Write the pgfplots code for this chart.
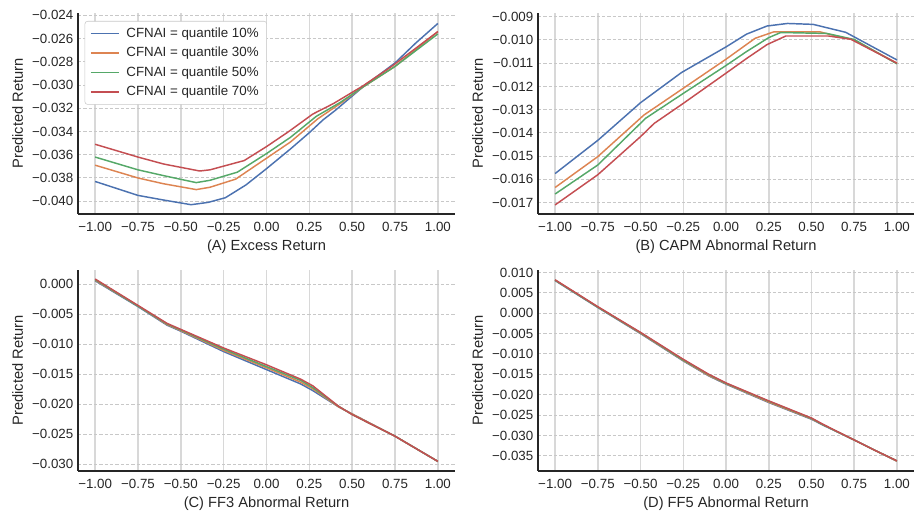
\documentclass[border=0pt]{standalone}
\usepackage{fontspec}
\setmainfont{Liberation Sans}
\usepackage{pgfplots}
\pgfplotsset{compat=1.18}
\definecolor{cblue}{HTML}{4C72B0}
\definecolor{corange}{HTML}{DD8452}
\definecolor{cgreen}{HTML}{55A868}
\definecolor{cred}{HTML}{C44E52}
\definecolor{spine}{HTML}{262626}
\definecolor{gridv}{HTML}{D8D8D8}
\definecolor{gridh}{HTML}{C8C8C8}
\pgfplotsset{
  panel/.style={
    scale only axis,
    anchor=south west,
    xmin=-1.1, xmax=1.1,
    axis x line*=bottom, axis y line*=left,
    axis line style={-, draw=spine, line width=1pt},
    major tick length=0pt,
    scaled y ticks=false, scaled x ticks=false,
    xmajorgrids, ymajorgrids,
    x grid style={draw=gridv, line width=1.15pt},
    y grid style={draw=gridh, line width=0.75pt, dash pattern=on 2.5pt off 1.5pt},
    xtick={-1,-0.75,-0.5,-0.25,0,0.25,0.5,0.75,1},
    xticklabels={−1.00,−0.75,−0.50,−0.25,0.00,0.25,0.50,0.75,1.00},
    tick label style={font=\fontsize{10}{12}\selectfont, text=spine},
    xticklabel style={yshift=-2.5pt},
    label style={font=\fontsize{11}{13}\selectfont, text=spine},
    xlabel style={yshift=0.5pt},
    ylabel={Predicted Return},
    every axis plot/.append style={line width=1.1pt, no markers},
    cycle list={{cblue},{corange},{cgreen},{cred}},
  }
}
\begin{document}
\begin{tikzpicture}
\path[use as bounding box] (0,0) rectangle (685.5pt,384.75pt);
% (A)
\begin{axis}[panel, at={(58.5pt,224.25pt)}, width=282.75pt, height=150.75pt,
  ymin=-0.0411, ymax=-0.0238,
  ytick={-0.040,-0.038,-0.036,-0.034,-0.032,-0.030,-0.028,-0.026,-0.024},
  yticklabels={−0.040,−0.038,−0.036,−0.034,−0.032,−0.030,−0.028,−0.026,−0.024},
  xlabel={(A) Excess Return},
  legend style={at={(0,1)}, anchor=north west, xshift=5pt, yshift=-6pt,
    draw=gridh, rounded corners=2pt, font=\fontsize{10}{12}\selectfont, text=spine,
    row sep=1.8pt, column sep=3pt, inner xsep=4pt, inner ysep=3pt},
  legend cell align=left,
  legend image code/.code={\draw[#1, line width=1.1pt] (0pt,0pt) -- (21pt,0pt);},
]
\addplot coordinates {(-1,-0.0383) (-0.75,-0.0395) (-0.6,-0.0399) (-0.44,-0.0403) (-0.34,-0.0401) (-0.24,-0.0397) (-0.12,-0.0386) (0,-0.0372) (0.14,-0.0355) (0.25,-0.0341) (0.33,-0.0330) (0.4,-0.0322) (0.56,-0.0302) (0.75,-0.0281) (0.87,-0.0264) (1,-0.0247)};
\addplot coordinates {(-1,-0.0369) (-0.75,-0.0380) (-0.6,-0.0385) (-0.41,-0.0390) (-0.33,-0.0388) (-0.18,-0.0381) (0,-0.0363) (0.14,-0.0349) (0.3,-0.0329) (0.43,-0.0316) (0.56,-0.0302) (0.75,-0.0284) (1,-0.0254)};
\addplot coordinates {(-1,-0.0362) (-0.75,-0.0373) (-0.6,-0.0378) (-0.41,-0.0384) (-0.33,-0.0382) (-0.17,-0.0375) (0,-0.0359) (0.14,-0.0345) (0.29,-0.0327) (0.43,-0.0315) (0.56,-0.0302) (0.75,-0.0284) (1,-0.0256)};
\addplot coordinates {(-1,-0.0351) (-0.75,-0.0362) (-0.6,-0.0368) (-0.39,-0.0374) (-0.33,-0.0373) (-0.13,-0.0365) (0,-0.0353) (0.13,-0.0340) (0.27,-0.0325) (0.39,-0.0316) (0.56,-0.0301) (0.73,-0.0284) (1,-0.0254)};
\legend{CFNAI = quantile 10\%, CFNAI = quantile 30\%, CFNAI = quantile 50\%, CFNAI = quantile 70\%}
\end{axis}
% (B)
\begin{axis}[panel, at={(403.5pt,224.25pt)}, width=282pt, height=150.75pt,
  ymin=-0.01749, ymax=-0.00884,
  ytick={-0.017,-0.016,-0.015,-0.014,-0.013,-0.012,-0.011,-0.010,-0.009},
  yticklabels={−0.017,−0.016,−0.015,−0.014,−0.013,−0.012,−0.011,−0.010,−0.009},
  xlabel={(B) CAPM Abnormal Return},
]
\addplot coordinates {(-1,-0.01575) (-0.75,-0.01432) (-0.5,-0.0127) (-0.26,-0.0114) (0,-0.0103) (0.12,-0.00975) (0.24,-0.0094) (0.36,-0.00929) (0.51,-0.00933) (0.7,-0.00967) (1,-0.01086)};
\addplot coordinates {(-1,-0.01635) (-0.75,-0.01502) (-0.48,-0.01323) (-0.25,-0.01208) (0,-0.01083) (0.17,-0.00993) (0.28,-0.00965) (0.55,-0.00965) (0.6,-0.00975) (0.75,-0.0100) (1,-0.0110)};
\addplot coordinates {(-1,-0.01663) (-0.75,-0.01538) (-0.47,-0.01337) (-0.25,-0.0123) (0,-0.0111) (0.12,-0.0105) (0.25,-0.0099) (0.32,-0.00968) (0.59,-0.00972) (0.75,-0.00998) (1,-0.01103)};
\addplot coordinates {(-1,-0.0171) (-0.75,-0.0158) (-0.5,-0.01416) (-0.42,-0.01359) (-0.25,-0.01273) (0,-0.01143) (0.12,-0.0108) (0.24,-0.0102) (0.35,-0.00983) (0.6,-0.00983) (0.73,-0.00997) (1,-0.0110)};
\end{axis}
% (C)
\begin{axis}[panel, at={(58.5pt,31.5pt)}, width=282.75pt, height=150.75pt,
  ymin=-0.0311, ymax=0.0024,
  ytick={-0.030,-0.025,-0.020,-0.015,-0.010,-0.005,0},
  yticklabels={−0.030,−0.025,−0.020,−0.015,−0.010,−0.005,0.000},
  xlabel={(C) FF3 Abnormal Return},
]
\addplot coordinates {(-1,0.0006) (-0.75,-0.0037) (-0.58,-0.0068) (-0.5,-0.0078) (-0.25,-0.0112) (0,-0.0142) (0.2,-0.0166) (0.27,-0.0177) (0.42,-0.0204) (0.5,-0.0216) (0.75,-0.0253) (1,-0.0295)};
\addplot coordinates {(-1,0.0007) (-0.75,-0.0036) (-0.58,-0.0067) (-0.5,-0.0077) (-0.25,-0.0110) (0,-0.0139) (0.2,-0.0163) (0.27,-0.0174) (0.42,-0.0204) (0.5,-0.0216) (0.75,-0.0253) (1,-0.0295)};
\addplot coordinates {(-1,0.0008) (-0.75,-0.0036) (-0.58,-0.0066) (-0.5,-0.0076) (-0.25,-0.0108) (0,-0.0137) (0.2,-0.0160) (0.27,-0.0172) (0.42,-0.0203) (0.5,-0.0217) (0.75,-0.0253) (1,-0.0295)};
\addplot coordinates {(-1,0.0009) (-0.75,-0.0035) (-0.58,-0.0065) (-0.5,-0.0075) (-0.25,-0.0106) (0,-0.0134) (0.2,-0.0158) (0.27,-0.0169) (0.42,-0.0203) (0.5,-0.0217) (0.75,-0.0253) (1,-0.0295)};
\end{axis}
% (D)
\begin{axis}[panel, at={(403.5pt,31.5pt)}, width=282pt, height=150.75pt,
  ymin=-0.0387, ymax=0.0106,
  ytick={-0.035,-0.030,-0.025,-0.020,-0.015,-0.010,-0.005,0,0.005,0.010},
  yticklabels={−0.035,−0.030,−0.025,−0.020,−0.015,−0.010,−0.005,0.000,0.005,0.010},
  xlabel={(D) FF5 Abnormal Return},
]
\addplot coordinates {(-1,0.0080) (-0.75,0.0014) (-0.5,-0.0050) (-0.25,-0.0117) (-0.1,-0.0154) (0,-0.0174) (0.25,-0.0219) (0.5,-0.0260) (0.57,-0.0275) (0.75,-0.0311) (0.87,-0.0336) (1,-0.0363)};
\addplot coordinates {(-1,0.0081) (-0.75,0.0015) (-0.5,-0.0049) (-0.25,-0.0116) (-0.1,-0.0153) (0,-0.0173) (0.25,-0.0218) (0.5,-0.0259) (0.57,-0.0274) (0.75,-0.0311) (0.87,-0.0336) (1,-0.0363)};
\addplot coordinates {(-1,0.0081) (-0.75,0.0015) (-0.5,-0.0048) (-0.25,-0.0115) (-0.1,-0.0151) (0,-0.0172) (0.25,-0.0216) (0.5,-0.0258) (0.57,-0.0274) (0.75,-0.0311) (0.87,-0.0336) (1,-0.0362)};
\addplot coordinates {(-1,0.0082) (-0.75,0.0016) (-0.5,-0.0047) (-0.25,-0.0113) (-0.1,-0.0150) (0,-0.0171) (0.25,-0.0215) (0.5,-0.0257) (0.57,-0.0273) (0.75,-0.0311) (0.87,-0.0336) (1,-0.0362)};
\end{axis}
\end{tikzpicture}
\end{document}
